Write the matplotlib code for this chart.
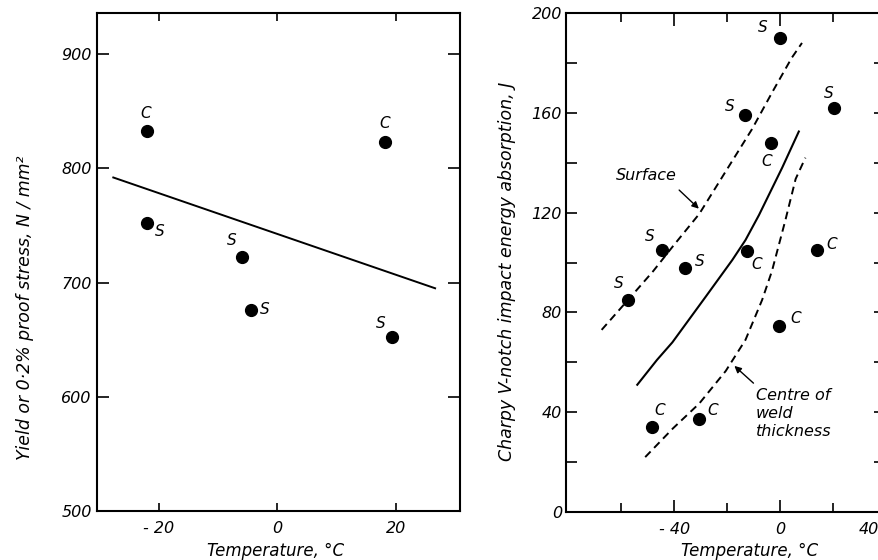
import matplotlib
matplotlib.use('Agg')
import matplotlib.pyplot as plt
import matplotlib.transforms as mtransforms
from matplotlib.ticker import FixedLocator, FixedFormatter

plt.rcParams['font.family'] = ['DejaVu Sans']
plt.rcParams['font.style'] = 'italic'
plt.rcParams['font.size'] = 11.5

# 左图: 屈服/0.2%条件屈服强度 vs 温度
yield_temp = [-22, -22, -6, -4.4, 18.1, 19.3]
yield_stress = [833, 752, 722, 676, 823, 652]
yield_pos = ['C', 'S', 'S', 'S', 'C', 'S']
yield_fit_temp = [-27.7, 26.6]
yield_fit_stress = [792, 695]

# 右图: 夏比V形缺口冲击功 vs 温度
charpy_temp = [0, 20.4, -13.3, -3.3, -12.3, -35.8, 14.2, -0.4, -30.8, -57.5, -48.4, -44.6]
charpy_energy = [190, 162, 159, 148, 104.6, 97.7, 105, 74.5, 37.3, 85, 33.9, 105]
charpy_pos = ['S', 'S', 'S', 'C', 'C', 'S', 'C', 'C', 'C', 'S', 'C', 'S']

surface_temp = [-67.5, -57.5, -48, -40.5, -30.5, -20.5, -10.5, -3, 4.5, 8.4]
surface_energy = [73, 85, 96.5, 106.5, 119.5, 136.5, 153.5, 168, 182, 188]
mean_temp = [-54, -46.5, -40.7, -28, -18, -13, -7.9, 0.9, 7.2]
mean_energy = [51, 61, 68, 86.4, 101, 109, 119, 138, 152.5]
centre_temp = [-51, -40.5, -30.5, -20.5, -13, -6.7, -3, 2, 6, 9.7]
centre_energy = [22, 33.5, 43.5, 56.5, 69, 85, 96.5, 116.5, 133.5, 142]

yield_xticks = [-20, 0, 20]
yield_xlabels = ['- 20', '0', '20']
yield_yticks = [500, 600, 700, 800, 900]
charpy_xticks = [-40, 0, 40]
charpy_xlabels = ['- 40', '0', '40']
charpy_xminor = [-60, -20, 20]
charpy_yticks = [0, 40, 80, 120, 160, 200]
charpy_yminor = [20, 60, 100, 140, 180]

# 标签偏移 (points)
yield_offsets = [(-1, 12.5), (9.4, -5.8), (-7.2, 12), (9.4, 0), (0, 13.7), (-7.7, 10)]
charpy_offsets = [(-12, 7.7), (-3.6, 10), (-10.8, 6.3), (-3.3, -13.2), (6.5, -9.4),
                  (10.6, 4.8), (10.6, 4.3), (12, 5.5), (10, 6), (-6.8, 12), (5.3, 12),
                  (-9.1, 10)]

fig = plt.figure(figsize=(8.79, 5.6), dpi=100)
ax1 = fig.add_axes([96.7 / 879, 49 / 560, 363.3 / 879, 498 / 560])
ax2 = fig.add_axes([566 / 879, 48 / 560, 319.4 / 879, 499 / 560])

for ax in (ax1, ax2):
    for sp in ax.spines.values():
        sp.set_linewidth(1.5)
    ax.tick_params(which='both', direction='in', top=True, right=True, width=1.2)

# 左图
ax1.plot(yield_fit_temp, yield_fit_stress, color='black', linewidth=1.4)
ax1.plot(yield_temp, yield_stress, 'o', color='black', markersize=8.5)
for t, s, p, off in zip(yield_temp, yield_stress, yield_pos, yield_offsets):
    ax1.annotate(p, (t, s), xytext=off, textcoords='offset points',
                 ha='center', va='center', fontsize=11)
ax1.set_xlim(-30.5, 30.8)
ax1.set_ylim(500, 936)
ax1.xaxis.set_major_locator(FixedLocator(yield_xticks))
ax1.xaxis.set_major_formatter(FixedFormatter(yield_xlabels))
ax1.yaxis.set_major_locator(FixedLocator(yield_yticks))
ax1.tick_params(axis='x', length=6, pad=7)
ax1.tick_params(axis='y', length=8.5, pad=3.5)

# 右图
dash = (0, (4, 2.6))
ax2.plot(surface_temp, surface_energy, color='black', linewidth=1.4, linestyle=dash)
ax2.plot(mean_temp, mean_energy, color='black', linewidth=1.5)
ax2.plot(centre_temp, centre_energy, color='black', linewidth=1.4, linestyle=dash)
ax2.plot(charpy_temp, charpy_energy, 'o', color='black', markersize=8.5)
for t, e, p, off in zip(charpy_temp, charpy_energy, charpy_pos, charpy_offsets):
    ax2.annotate(p, (t, e), xytext=off, textcoords='offset points',
                 ha='center', va='center', fontsize=11)

ax2.annotate('', xy=(-29.9, 120.8), xytext=(-38.9, 129.8),
             arrowprops=dict(arrowstyle='-|>', color='black', lw=1, mutation_scale=10))
ax2.text(-50.6, 134.7, 'Surface', ha='center', va='center', fontsize=11.5)
ax2.annotate('', xy=(-18, 59.3), xytext=(-9.2, 50.9),
             arrowprops=dict(arrowstyle='-|>', color='black', lw=1, mutation_scale=10))
ax2.text(-9.2, 49.5, 'Centre of\nweld\nthickness', ha='left', va='top',
         fontsize=11.5, linespacing=1.25)

ax2.set_xlim(-81, 40)
ax2.set_ylim(0, 200)
ax2.xaxis.set_major_locator(FixedLocator(charpy_xticks))
ax2.xaxis.set_major_formatter(FixedFormatter(charpy_xlabels))
ax2.xaxis.set_minor_locator(FixedLocator(charpy_xminor))
ax2.yaxis.set_major_locator(FixedLocator(charpy_yticks))
ax2.yaxis.set_minor_locator(FixedLocator(charpy_yminor))
ax2.tick_params(axis='x', which='major', length=9, pad=7)
ax2.tick_params(axis='x', which='minor', length=6.5)
ax2.tick_params(axis='y', which='both', length=8, pad=3)

# 最右侧 "40" 在图边缘, 左移以免被裁掉
fig.canvas.draw()
last = ax2.get_xticklabels()[-1]
last.set_transform(last.get_transform()
                   + mtransforms.ScaledTranslation(-17 / 100, 0, fig.dpi_scale_trans))

# 坐标轴标题
fig.text(25 / 879, 1 - 308 / 560, 'Yield or 0·2% proof stress, N / mm²',
         rotation=90, ha='center', va='center', fontsize=12.5)
fig.text(507 / 879, 1 - 271 / 560, 'Charpy V-notch impact energy absorption, J',
         rotation=90, ha='center', va='center', fontsize=12.5)
fig.text(276 / 879, 1 - 551 / 560, 'Temperature, °C', ha='center', va='center', fontsize=12)
fig.text(750 / 879, 1 - 551 / 560, 'Temperature, °C', ha='center', va='center', fontsize=12)

fig.savefig('out.png', dpi=100)
